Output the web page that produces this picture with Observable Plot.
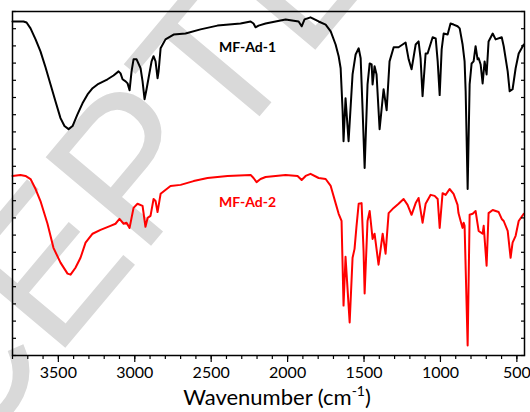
<!DOCTYPE html>
<html>
<head>
<meta charset="utf-8">
<script src="https://cdn.jsdelivr.net/npm/d3@7"></script>
<script src="https://cdn.jsdelivr.net/npm/@observablehq/plot@0.6"></script>
<style>
  html, body { margin: 0; padding: 0; background: white; }
  #chart { width: 530px; height: 412px; overflow: hidden; }
</style>
</head>
<body>
<div id="chart"></div>
<script>
// ---- data ----
const wnBlack = [3800,3728,3708,3682,3649,3617,3584,3551,3519,3486,3460,3433,3407,3375,3342,3309,3276,3244,3178,3139,3106,3093,3080,3060,3047,3034,3021,3008,2988,2962,2949,2936,2923,2910,2890,2877,2864,2851,2844,2831,2799,2746,2668,2570,2459,2308,2242,2223,2210,2190,2144,2079,2013,1928,1908,1889,1850,1797,1751,1718,1686,1666,1653,1640,1634,1621,1601,1575,1555,1535,1522,1509,1496,1477,1463,1450,1444,1431,1418,1398,1372,1352,1333,1306,1274,1228,1208,1189,1162,1143,1130,1117,1097,1084,1051,1031,1018,1005,992,979,953,934,914,888,874,855,842,835,822,809,796,783,770,757,750,737,724,711,698,685,658,639,599,586,560,547,528,508,488,455];
const tBlack = [97.1,97.1,96.8,95.1,91.9,88.4,83.8,78.8,73.9,69.0,66.7,65.8,66.7,70.1,73.3,75.9,77.7,78.8,80.3,81.4,82.6,82.0,80.3,79.7,79.1,77.1,82.6,86.1,86.1,83.5,79.7,74.5,77.4,80.6,85.5,87.0,85.5,80.6,82.6,89.3,91.9,93.3,93.6,94.8,95.9,96.5,97.1,96.5,95.4,95.9,96.5,97.1,97.7,97.1,95.7,97.7,98.3,97.1,96.2,94.2,90.4,87.0,83.5,71.0,62.3,74.8,62.3,81.7,87.5,89.3,86.4,71.0,54.5,78.8,84.9,84.6,78.8,84.1,81.7,65.8,77.4,71.3,85.5,89.6,89.6,91.0,86.1,83.2,90.4,91.3,86.4,75.4,87.8,87.8,92.5,92.2,85.5,75.7,89.0,93.6,93.3,96.5,96.2,95.7,95.1,90.4,85.5,76.8,48.4,78.8,84.9,85.5,89.9,86.1,86.4,84.6,79.1,85.5,81.7,91.3,93.6,91.9,92.5,89.9,82.6,76.8,77.4,83.5,87.8,90.4];

const wnRed = [3800,3748,3715,3682,3649,3617,3571,3532,3486,3440,3420,3388,3355,3322,3276,3224,3159,3126,3100,3073,3054,3034,3008,2982,2949,2930,2916,2897,2877,2864,2851,2831,2766,2700,2615,2524,2393,2242,2223,2203,2177,2144,2013,1935,1908,1882,1850,1797,1751,1718,1686,1666,1647,1634,1621,1607,1594,1575,1562,1549,1535,1516,1503,1496,1477,1463,1444,1431,1405,1378,1359,1339,1306,1274,1241,1215,1189,1162,1143,1117,1097,1064,1038,1018,1005,986,966,940,914,888,882,868,855,848,842,822,809,789,770,750,724,717,698,685,658,619,599,586,560,541,528,508,488,455];
const tRed = [52.2,52.5,52.2,51.3,48.4,44.9,38.3,31.3,27.0,23.8,23.5,25.5,28.4,32.8,35.4,36.5,37.7,38.3,39.7,38.3,38.6,37.1,42.9,44.1,43.5,37.4,40.0,40.6,45.5,44.9,41.7,47.0,49.3,49.6,50.7,51.6,52.2,52.5,51.6,50.4,51.3,51.9,52.5,52.2,51.0,52.2,52.8,51.6,51.3,49.3,44.3,41.2,39.1,14.5,28.7,18.8,9.6,28.4,31.0,37.7,44.1,44.3,30.4,18.0,39.1,42.0,33.9,35.4,26.4,35.4,29.6,41.4,42.9,44.1,45.5,43.8,40.9,44.3,45.8,38.6,44.1,46.7,46.4,45.5,37.1,47.2,46.7,48.4,47.0,43.8,41.4,39.1,37.1,38.6,37.7,2.9,40.9,41.2,42.0,36.2,35.4,37.7,26.1,41.4,42.3,41.7,39.7,39.1,36.2,28.4,32.8,34.8,39.1,41.2];

const seriesNames = ["MF-Ad-1", "MF-Ad-2"];
const seriesColors = ["#000000", "#ff0000"];
const labelWn = [2262, 2262];
const labelT = [89.5, 44.5];

const majorTicks = [3500, 3000, 2500, 2000, 1500, 1000, 500];
const minorTicks = d3.range(500, 3801, 100);
const yTicks = d3.range(0, 101, 5);

// ---- tables ----
const black = wnBlack.map((w, i) => ({w, t: tBlack[i], s: seriesNames[0]}));
const red = wnRed.map((w, i) => ({w, t: tRed[i], s: seriesNames[1]}));
const labels = seriesNames.map((s, i) => ({s, w: labelWn[i], t: labelT[i], c: seriesColors[i]}));

const plot = Plot.plot({
  width: 530,
  height: 412,
  marginTop: 11,
  marginBottom: 57,
  marginLeft: 12,
  marginRight: 6,
  style: {fontFamily: "Lato, 'Open Sans', sans-serif", background: "white", color: "black"},
  x: {domain: [3800, 450], axis: null},
  y: {domain: [0, 100], axis: null},
  marks: [
    Plot.line(black, {x: "w", y: "t", stroke: seriesColors[0], strokeWidth: 2}),
    Plot.line(red, {x: "w", y: "t", stroke: seriesColors[1], strokeWidth: 2}),
    Plot.frame({stroke: "black", strokeWidth: 1.5}),
    Plot.axisX({ticks: minorTicks, tickSize: 4, tickFormat: () => "", label: null, strokeWidth: 1.2}),
    Plot.axisX({ticks: majorTicks, tickSize: 7, tickPadding: 4, fontSize: 16, label: null, strokeWidth: 1.2, tickFormat: d => String(d)}),
    Plot.axisY({anchor: "left", ticks: yTicks, tickSize: -4, tickFormat: () => "", label: null, strokeWidth: 1.2}),
    Plot.axisY({anchor: "right", ticks: yTicks, tickSize: -4, tickFormat: () => "", label: null, strokeWidth: 1.2}),
    Plot.text(labels, {x: "w", y: "t", text: "s", fill: "c", fontSize: 14, fontWeight: "bold", textAnchor: "middle"})
  ]
});

document.getElementById("chart").appendChild(plot);

const svg = d3.select(plot);

// light watermark behind the spectra
svg.insert("text", "g")
  .attr("transform", "translate(80,222) rotate(-50)")
  .attr("text-anchor", "middle")
  .attr("dominant-baseline", "central")
  .attr("font-family", "'Liberation Sans', Arial, sans-serif")
  .attr("font-size", 200)
  .attr("fill", "#d9d9d9")
  .text("ACCEPTED");

// x axis title with superscript
const title = svg.append("text")
  .attr("x", 277).attr("y", 405)
  .attr("text-anchor", "middle")
  .attr("font-family", "Lato, 'Open Sans', sans-serif")
  .attr("font-size", 22)
  .attr("fill", "black");
title.append("tspan").text("Wavenumber (cm");
title.append("tspan").attr("font-size", 14).attr("dy", -9).text("-1");
title.append("tspan").attr("dy", 9).text(")");
</script>
</body>
</html>
